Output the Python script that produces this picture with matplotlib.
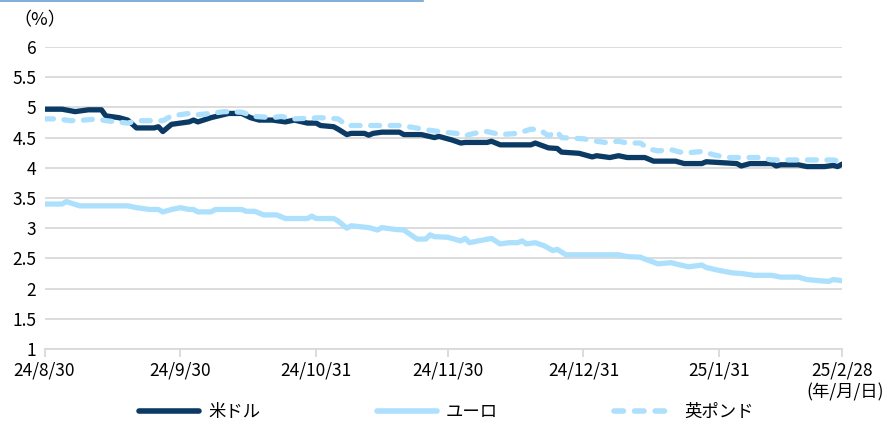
import matplotlib
matplotlib.use('Agg')
import matplotlib.pyplot as plt
import pandas as pd
from matplotlib.lines import Line2D

plt.rcParams['font.family'] = ['Noto Sans CJK JP', 'DejaVu Sans']

# --- data ---
usd_dates = ['2024-08-30', '2024-09-03', '2024-09-06', '2024-09-09', '2024-09-12', '2024-09-13',
             '2024-09-16', '2024-09-18', '2024-09-20', '2024-09-24', '2024-09-25', '2024-09-26',
             '2024-09-28', '2024-10-02', '2024-10-03', '2024-10-04', '2024-10-07', '2024-10-11',
             '2024-10-14', '2024-10-16', '2024-10-18', '2024-10-21', '2024-10-24', '2024-10-26',
             '2024-10-29', '2024-10-31', '2024-11-01', '2024-11-04', '2024-11-05', '2024-11-07',
             '2024-11-08', '2024-11-11', '2024-11-12', '2024-11-13', '2024-11-15', '2024-11-19',
             '2024-11-20', '2024-11-24', '2024-11-27', '2024-11-28', '2024-12-01', '2024-12-03',
             '2024-12-04', '2024-12-09', '2024-12-10', '2024-12-12', '2024-12-19', '2024-12-20',
             '2024-12-23', '2024-12-25', '2024-12-26', '2024-12-30', '2025-01-01', '2025-01-02',
             '2025-01-03', '2025-01-06', '2025-01-08', '2025-01-10', '2025-01-14', '2025-01-16',
             '2025-01-21', '2025-01-23', '2025-01-27', '2025-01-28', '2025-02-04', '2025-02-05',
             '2025-02-07', '2025-02-12', '2025-02-13', '2025-02-14', '2025-02-18', '2025-02-20',
             '2025-02-24', '2025-02-26', '2025-02-27', '2025-02-28']
usd_values = [4.97, 4.97, 4.93, 4.96, 4.96, 4.86,
              4.83, 4.79, 4.66, 4.66, 4.68, 4.60,
              4.72, 4.76, 4.79, 4.76, 4.83, 4.90,
              4.90, 4.83, 4.79, 4.79, 4.76, 4.79,
              4.74, 4.74, 4.70, 4.68, 4.64, 4.55,
              4.57, 4.57, 4.54, 4.57, 4.59, 4.59,
              4.55, 4.55, 4.50, 4.52, 4.46, 4.41,
              4.42, 4.42, 4.44, 4.38, 4.38, 4.41,
              4.33, 4.32, 4.26, 4.24, 4.20, 4.18,
              4.20, 4.17, 4.20, 4.17, 4.17, 4.11,
              4.11, 4.07, 4.07, 4.10, 4.07, 4.03,
              4.07, 4.07, 4.03, 4.05, 4.05, 4.02,
              4.02, 4.04, 4.02, 4.06]

eur_dates = ['2024-08-30', '2024-09-03', '2024-09-04', '2024-09-07', '2024-09-18', '2024-09-20',
             '2024-09-23', '2024-09-25', '2024-09-26', '2024-09-28', '2024-09-30', '2024-10-02',
             '2024-10-03', '2024-10-04', '2024-10-07', '2024-10-08', '2024-10-14', '2024-10-15',
             '2024-10-17', '2024-10-19', '2024-10-22', '2024-10-24', '2024-10-29', '2024-10-30',
             '2024-10-31', '2024-11-04', '2024-11-05', '2024-11-07', '2024-11-08', '2024-11-12',
             '2024-11-14', '2024-11-15', '2024-11-18', '2024-11-20', '2024-11-21', '2024-11-23',
             '2024-11-25', '2024-11-26', '2024-11-27', '2024-11-30', '2024-12-03', '2024-12-04',
             '2024-12-05', '2024-12-07', '2024-12-10', '2024-12-12', '2024-12-14', '2024-12-16',
             '2024-12-17', '2024-12-18', '2024-12-20', '2024-12-22', '2024-12-24', '2024-12-25',
             '2024-12-27', '2025-01-08', '2025-01-10', '2025-01-13', '2025-01-14', '2025-01-17',
             '2025-01-20', '2025-01-21', '2025-01-24', '2025-01-27', '2025-01-28', '2025-01-31',
             '2025-02-03', '2025-02-05', '2025-02-08', '2025-02-12', '2025-02-14', '2025-02-18',
             '2025-02-20', '2025-02-23', '2025-02-25', '2025-02-26', '2025-02-28']
eur_values = [3.40, 3.40, 3.44, 3.37, 3.37, 3.34,
              3.31, 3.31, 3.27, 3.31, 3.34, 3.31,
              3.31, 3.27, 3.27, 3.31, 3.31, 3.28,
              3.28, 3.22, 3.22, 3.16, 3.16, 3.20,
              3.16, 3.16, 3.12, 3.00, 3.04, 3.01,
              2.97, 3.01, 2.98, 2.97, 2.92, 2.82,
              2.82, 2.89, 2.86, 2.85, 2.79, 2.83,
              2.76, 2.79, 2.83, 2.74, 2.76, 2.76,
              2.79, 2.74, 2.76, 2.71, 2.63, 2.65,
              2.56, 2.56, 2.53, 2.52, 2.49, 2.41,
              2.43, 2.41, 2.36, 2.39, 2.35, 2.30,
              2.26, 2.25, 2.22, 2.22, 2.19, 2.19,
              2.15, 2.13, 2.12, 2.15, 2.13]

gbp_dates = ['2024-08-30', '2024-09-02', '2024-09-05', '2024-09-08', '2024-09-11', '2024-09-13',
             '2024-09-18', '2024-09-20', '2024-09-26', '2024-09-28', '2024-10-02', '2024-10-04',
             '2024-10-07', '2024-10-10', '2024-10-14', '2024-10-17', '2024-10-21', '2024-10-23',
             '2024-10-26', '2024-11-01', '2024-11-05', '2024-11-07', '2024-11-19', '2024-11-22',
             '2024-11-25', '2024-11-29', '2024-12-02', '2024-12-04', '2024-12-06', '2024-12-09',
             '2024-12-12', '2024-12-16', '2024-12-19', '2024-12-21', '2024-12-23', '2024-12-25',
             '2024-12-26', '2024-12-31', '2025-01-03', '2025-01-05', '2025-01-08', '2025-01-10',
             '2025-01-13', '2025-01-15', '2025-01-17', '2025-01-20', '2025-01-22', '2025-01-24',
             '2025-01-27', '2025-01-30', '2025-02-02', '2025-02-09', '2025-02-12', '2025-02-26',
             '2025-02-28']
gbp_values = [4.81, 4.81, 4.78, 4.79, 4.81, 4.78,
              4.74, 4.78, 4.78, 4.86, 4.90, 4.88,
              4.90, 4.93, 4.92, 4.85, 4.83, 4.85,
              4.81, 4.83, 4.81, 4.70, 4.70, 4.67,
              4.63, 4.59, 4.57, 4.53, 4.57, 4.60,
              4.55, 4.57, 4.64, 4.63, 4.53, 4.60,
              4.50, 4.48, 4.44, 4.42, 4.44, 4.41,
              4.41, 4.31, 4.28, 4.30, 4.26, 4.25,
              4.27, 4.21, 4.17, 4.17, 4.13, 4.13,
              4.10]

series_names = ['米ドル', 'ユーロ', '英ポンド']
tick_dates = ['2024-08-30', '2024-09-30', '2024-10-31', '2024-11-30',
              '2024-12-31', '2025-01-31', '2025-02-28']
tick_labels = ['24/8/30', '24/9/30', '24/10/31', '24/11/30',
               '24/12/31', '25/1/31', '25/2/28']
y_ticks = [1, 1.5, 2, 2.5, 3, 3.5, 4, 4.5, 5, 5.5, 6]

navy = '#0b3a64'
light = '#ade0fd'
grid_col = '#d9d9d9'

W, H = 889, 423
fig = plt.figure(figsize=(W / 100, H / 100), dpi=100)
ax = fig.add_axes([44.5 / W, 1 - 349 / H, (842 - 44.5) / W, (349 - 47) / H])

lw = 3.8
ax.plot(pd.to_datetime(usd_dates), usd_values, color=navy, lw=lw,
        solid_joinstyle='round', solid_capstyle='round', label=series_names[0])
ax.plot(pd.to_datetime(eur_dates), eur_values, color=light, lw=lw,
        solid_joinstyle='round', solid_capstyle='round', label=series_names[1])
gbp_line, = ax.plot(pd.to_datetime(gbp_dates), gbp_values, color=light, lw=lw,
                    dash_capstyle='round', dash_joinstyle='round', label=series_names[2])
gbp_line.set_dashes((1.7, 2.0))

ax.set_xlim(pd.Timestamp(tick_dates[0]), pd.Timestamp(tick_dates[-1]))
ax.set_ylim(1, 6)
ax.set_yticks(y_ticks)
ax.set_yticklabels([f'{v:g}' for v in y_ticks])
ax.set_xticks(pd.to_datetime(tick_dates))
ax.set_xticklabels(tick_labels)

ax.grid(axis='y', color=grid_col, lw=1.3)
ax.set_axisbelow(True)
for s in ['left', 'right', 'top']:
    ax.spines[s].set_visible(False)
ax.spines['bottom'].set_color(grid_col)
ax.spines['bottom'].set_linewidth(1.3)
ax.tick_params(axis='y', length=0, pad=6, labelsize=12.5, labelcolor='black')
ax.tick_params(axis='x', length=6, width=1.3, color=grid_col, pad=3,
               labelsize=12.5, labelcolor='black')

fig.text(13 / W, 1 - 20 / H, '（%）', fontsize=13, ha='left', va='center')
fig.text(806 / W, 1 - 392 / H, '(年/月/日)', fontsize=12.5, ha='left', va='center')

# thin accent line at the very top
fig.add_artist(Line2D([0, 423 / W], [1 - 1.5 / H, 1 - 1.5 / H],
                      transform=fig.transFigure, color='#6a9fd6', lw=1.2))

leg = fig.legend(loc='center', bbox_to_anchor=(446 / W, 1 - 412 / H), ncol=3,
                 frameon=False, fontsize=12.5, handlelength=3.5, handletextpad=0.5,
                 columnspacing=6.7, borderpad=0)
for h in leg.get_lines():
    h.set_linewidth(4)

fig.savefig('out.png', dpi=100)
